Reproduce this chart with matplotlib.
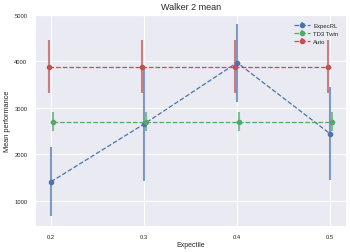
import matplotlib
matplotlib.use("Agg")
import matplotlib.pyplot as plt
import seaborn as sns
import numpy as np

sns.set_style("darkgrid")
plt.rcParams['font.family'] = ['Liberation Sans', 'DejaVu Sans']

expectiles = [0.2, 0.3, 0.4, 0.5]
series_names = ["ExpecRL", "TD3 Twin", "Auto"]
expecrl_mean = [1410, 2650, 3970, 2440]
expecrl_err = [740, 1230, 840, 1000]
td3_mean = [2700, 2700, 2700, 2700]
td3_err = [200, 200, 200, 200]
auto_mean = [3880, 3880, 3880, 3880]
auto_err = [570, 570, 570, 570]
offsets = [0.0, 0.002, -0.002]
colors = ["#4C72B0", "#55A868", "#C44E52"]

fig = plt.figure(figsize=(3.5, 2.53), dpi=100)
ax = fig.add_axes([0.1, 0.103, 0.889, 0.835])

means = [expecrl_mean, td3_mean, auto_mean]
errs = [expecrl_err, td3_err, auto_err]
for name, m, e, off, c in zip(series_names, means, errs, offsets, colors):
    x = np.array(expectiles) + off
    eb = ax.errorbar(x, m, yerr=e, fmt='o--', color=c, elinewidth=1.5,
                     lw=0.9, markersize=3, label=name)
    for lc in eb[2]:
        lc.set_alpha(0.7)

ax.set_xticks(expectiles)
ax.set_xticklabels(["0.2", "0.3", "0.4", "0.5"])
ax.set_yticks([1000, 2000, 3000, 4000, 5000])
ax.set_ylim(460, 5000)
ax.tick_params(labelsize=4.2, pad=2)
ax.set_title("Walker 2 mean", fontsize=6.5, pad=4)
ax.set_xlabel("Expectile", fontsize=5, labelpad=2)
ax.set_ylabel("Mean performance", fontsize=5.3, labelpad=2)
ax.legend(loc="upper right", fontsize=4.3, frameon=False, handlelength=2.6,
          labelspacing=0.5, handletextpad=0.6, borderaxespad=0.9)
fig.savefig("out.png", dpi=100)
